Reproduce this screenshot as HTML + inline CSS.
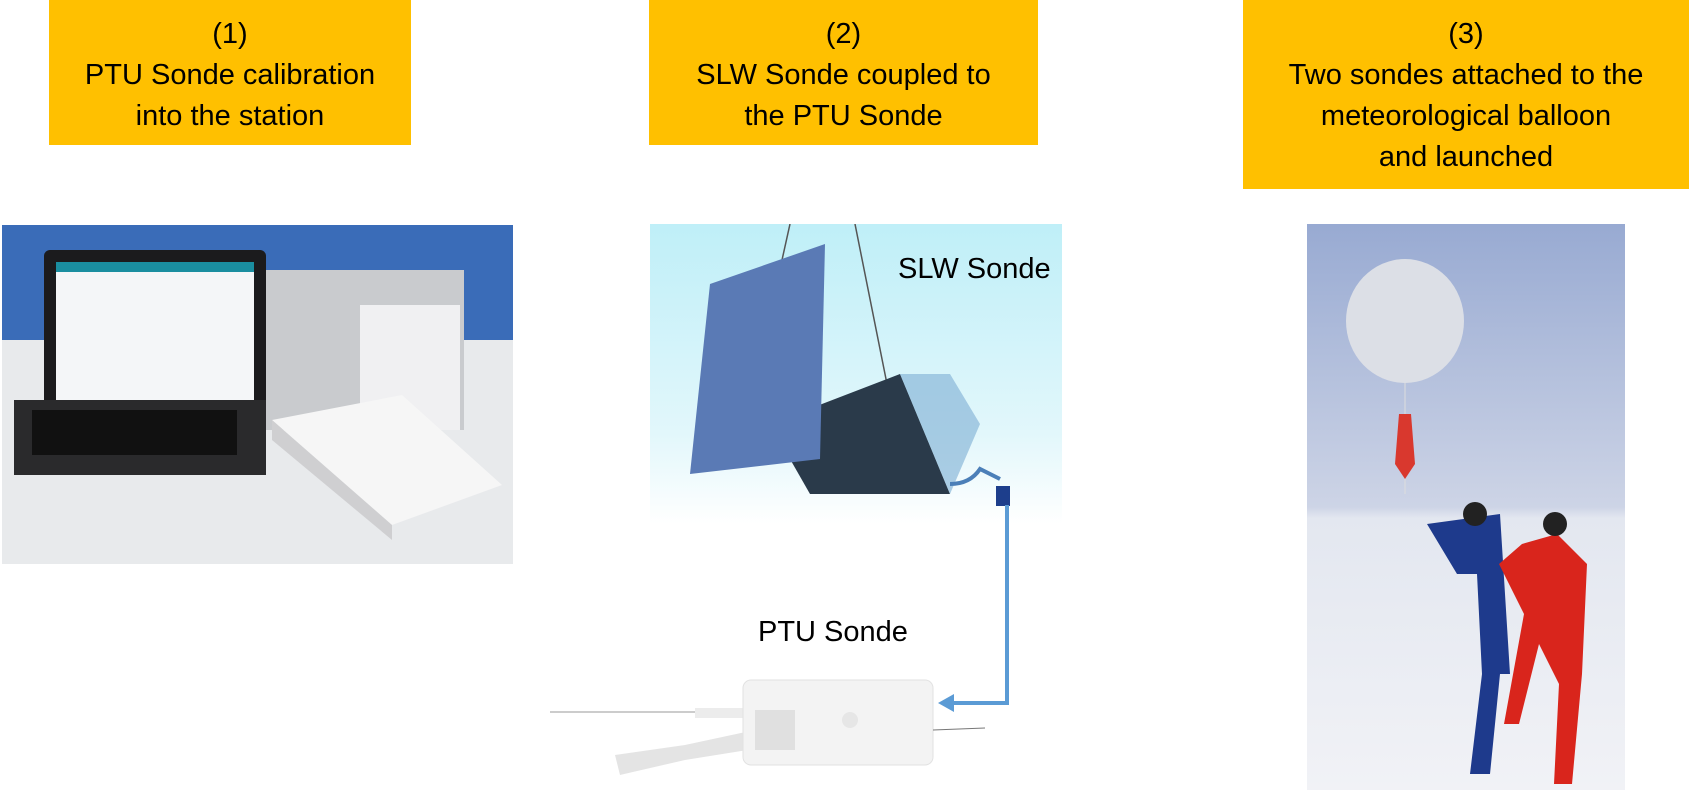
<!DOCTYPE html>
<html><head><meta charset="utf-8"><style>
body{margin:0;width:1696px;height:792px;background:#fff;position:relative;overflow:hidden;font-family:"Liberation Sans",sans-serif}
.box{position:absolute;top:0;background:#ffc000;color:#000;text-align:center;font-size:29px;line-height:41px;padding-top:14px;box-sizing:border-box}
.lbl{position:absolute;font-size:29px;color:#000;white-space:nowrap}
</style></head><body>
<div class="box" style="left:49px;width:362px;height:145px">(1)<br>PTU Sonde calibration<br>into the station</div>
<div class="box" style="left:649px;width:389px;height:145px">(2)<br>SLW Sonde coupled to<br>the PTU Sonde</div>
<div class="box" style="left:1243px;width:446px;height:189px">(3)<br>Two sondes attached to the<br>meteorological balloon<br>and launched</div>

<!-- photo 1 -->
<svg style="position:absolute;left:2px;top:225px" width="511" height="339">
<rect width="511" height="339" fill="#e8eaec"/>
<rect width="511" height="115" fill="#3a6cb8"/>
<rect x="262" y="45" width="200" height="160" fill="#c9cbce"/>
<rect x="358" y="80" width="100" height="125" fill="#f0f0f2"/>
<rect x="42" y="25" width="222" height="165" rx="6" fill="#1b1b1d"/>
<rect x="54" y="37" width="198" height="138" fill="#f4f6f8"/>
<rect x="54" y="37" width="198" height="10" fill="#1a8ea0"/>
<rect x="12" y="175" width="252" height="75" fill="#2a2a2c"/>
<rect x="30" y="185" width="205" height="45" fill="#111"/>
<polygon points="270,195 400,170 500,260 390,300" fill="#f6f6f6"/>
<polygon points="270,195 390,300 390,315 270,215" fill="#cfcfd1"/>
</svg>

<!-- photo 2 -->
<svg style="position:absolute;left:650px;top:224px" width="412" height="300">
<defs><linearGradient id="g2" x1="0" y1="0" x2="0" y2="1"><stop offset="0" stop-color="#bfeff8"/><stop offset="0.7" stop-color="#e2f7fb"/><stop offset="1" stop-color="#fff"/></linearGradient></defs>
<rect width="412" height="300" fill="url(#g2)"/>
<line x1="140" y1="0" x2="100" y2="180" stroke="#555" stroke-width="1.5"/>
<line x1="205" y1="0" x2="245" y2="200" stroke="#555" stroke-width="1.5"/>
<polygon points="120,200 250,150 300,270 160,270" fill="#2a3a4a"/>
<polygon points="250,150 300,150 330,200 300,270" fill="#8ab8d8" opacity="0.7"/>
<polygon points="60,60 175,20 170,235 40,250" fill="#5a7ab5"/>
<path d="M300 260 q20 0 30 -15 l20 10" stroke="#4b7fb8" stroke-width="4" fill="none"/>
<rect x="346" y="262" width="14" height="20" fill="#1d3e8c"/>
</svg>
<div class="lbl" style="left:898px;top:253px">SLW Sonde</div>

<!-- connector -->
<svg style="position:absolute;left:0;top:0" width="1696" height="792">
<polyline points="1007,505 1007,703 950,703" stroke="#5b9bd5" stroke-width="4" fill="none"/>
<polygon points="938,703 954,694 954,712" fill="#5b9bd5"/>
</svg>

<!-- PTU sonde -->
<div class="lbl" style="left:758px;top:616px">PTU Sonde</div>
<svg style="position:absolute;left:545px;top:670px" width="470" height="120">
<line x1="5" y1="42" x2="200" y2="42" stroke="#ccc" stroke-width="2"/>
<rect x="150" y="38" width="85" height="10" fill="#ececec"/>
<polygon points="70,85 140,75 210,60 215,78 140,90 75,105" fill="#e4e4e4"/>
<rect x="198" y="10" width="190" height="85" rx="8" fill="#f3f3f3" stroke="#e2e2e2"/>
<rect x="210" y="40" width="40" height="40" fill="#e0e0e0"/>
<circle cx="305" cy="50" r="8" fill="#e6e6e6"/>
<line x1="388" y1="60" x2="440" y2="58" stroke="#777"/>
</svg>

<!-- photo 3 -->
<svg style="position:absolute;left:1307px;top:224px" width="318" height="566">
<defs><linearGradient id="g3" x1="0" y1="0" x2="0" y2="1"><stop offset="0" stop-color="#98aad2"/><stop offset="0.5" stop-color="#cdd4e6"/><stop offset="0.52" stop-color="#e3e7f0"/><stop offset="1" stop-color="#f1f2f6"/></linearGradient></defs>
<rect width="318" height="566" fill="url(#g3)"/>
<ellipse cx="98" cy="97" rx="59" ry="62" fill="#dcdfe6"/>
<line x1="98" y1="159" x2="98" y2="270" stroke="#ddd"/>
<polygon points="92,190 104,190 108,240 98,255 88,240" fill="#d9382e"/>
<path d="M120 300 l30 50 l20 0 l5 100 l-12 100 l20 0 l10 -100 l10 0 l-10 -160 z" fill="#1e3a8c"/>
<circle cx="168" cy="290" r="12" fill="#222"/>
<path d="M215 320 l35 -10 l30 30 l-5 110 l-10 110 l-18 0 l5 -100 l-20 -40 l-20 80 l-15 0 l20 -110 l-25 -50 z" fill="#d9251c"/>
<circle cx="248" cy="300" r="12" fill="#222"/>
</svg>
</body></html>
